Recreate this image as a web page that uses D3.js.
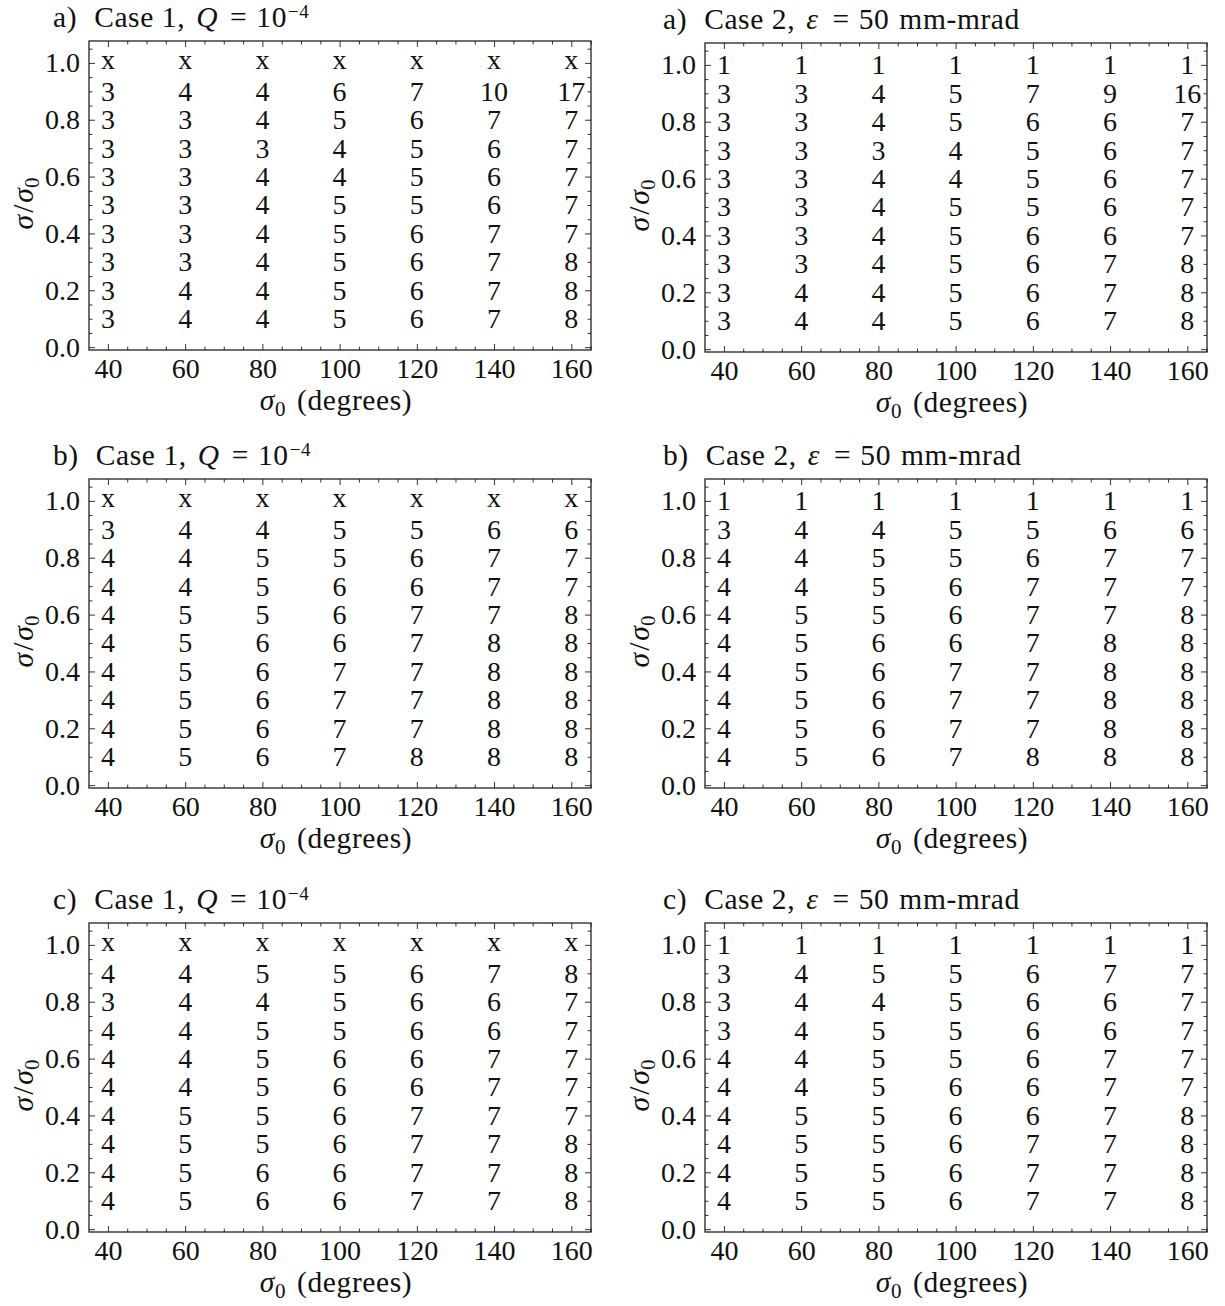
<!DOCTYPE html>
<html>
<head>
<meta charset="utf-8">
<script src="https://cdn.jsdelivr.net/npm/d3@7"></script>
<style>
  html, body { margin: 0; padding: 0; background: #fff; }
  svg { display: block; }
  text { font-family: "Liberation Serif", "Times New Roman", serif; fill: #111; }
</style>
</head>
<body>
<svg id="chart" width="1225" height="1306"></svg>
<script>
// ---------------- data ----------------
const sigma0 = [40, 60, 80, 100, 120, 140, 160];          // columns (degrees)
const ratio = [1.0, 0.9, 0.8, 0.7, 0.6, 0.5, 0.4, 0.3, 0.2, 0.1]; // rows (sigma/sigma0)
const xTicks = [40, 60, 80, 100, 120, 140, 160];
const yTicks = [0.0, 0.2, 0.4, 0.6, 0.8, 1.0];
const X = null; // "x" entries (no value)

const case1a = [
  [X, X, X, X, X, X, X],
  [3, 4, 4, 6, 7, 10, 17],
  [3, 3, 4, 5, 6, 7, 7],
  [3, 3, 3, 4, 5, 6, 7],
  [3, 3, 4, 4, 5, 6, 7],
  [3, 3, 4, 5, 5, 6, 7],
  [3, 3, 4, 5, 6, 7, 7],
  [3, 3, 4, 5, 6, 7, 8],
  [3, 4, 4, 5, 6, 7, 8],
  [3, 4, 4, 5, 6, 7, 8]
];
const case2a = [
  [1, 1, 1, 1, 1, 1, 1],
  [3, 3, 4, 5, 7, 9, 16],
  [3, 3, 4, 5, 6, 6, 7],
  [3, 3, 3, 4, 5, 6, 7],
  [3, 3, 4, 4, 5, 6, 7],
  [3, 3, 4, 5, 5, 6, 7],
  [3, 3, 4, 5, 6, 6, 7],
  [3, 3, 4, 5, 6, 7, 8],
  [3, 4, 4, 5, 6, 7, 8],
  [3, 4, 4, 5, 6, 7, 8]
];
const case1b = [
  [X, X, X, X, X, X, X],
  [3, 4, 4, 5, 5, 6, 6],
  [4, 4, 5, 5, 6, 7, 7],
  [4, 4, 5, 6, 6, 7, 7],
  [4, 5, 5, 6, 7, 7, 8],
  [4, 5, 6, 6, 7, 8, 8],
  [4, 5, 6, 7, 7, 8, 8],
  [4, 5, 6, 7, 7, 8, 8],
  [4, 5, 6, 7, 7, 8, 8],
  [4, 5, 6, 7, 8, 8, 8]
];
const case2b = [
  [1, 1, 1, 1, 1, 1, 1],
  [3, 4, 4, 5, 5, 6, 6],
  [4, 4, 5, 5, 6, 7, 7],
  [4, 4, 5, 6, 7, 7, 7],
  [4, 5, 5, 6, 7, 7, 8],
  [4, 5, 6, 6, 7, 8, 8],
  [4, 5, 6, 7, 7, 8, 8],
  [4, 5, 6, 7, 7, 8, 8],
  [4, 5, 6, 7, 7, 8, 8],
  [4, 5, 6, 7, 8, 8, 8]
];
const case1c = [
  [X, X, X, X, X, X, X],
  [4, 4, 5, 5, 6, 7, 8],
  [3, 4, 4, 5, 6, 6, 7],
  [4, 4, 5, 5, 6, 6, 7],
  [4, 4, 5, 6, 6, 7, 7],
  [4, 4, 5, 6, 6, 7, 7],
  [4, 5, 5, 6, 7, 7, 7],
  [4, 5, 5, 6, 7, 7, 8],
  [4, 5, 6, 6, 7, 7, 8],
  [4, 5, 6, 6, 7, 7, 8]
];
const case2c = [
  [1, 1, 1, 1, 1, 1, 1],
  [3, 4, 5, 5, 6, 7, 7],
  [3, 4, 4, 5, 6, 6, 7],
  [3, 4, 5, 5, 6, 6, 7],
  [4, 4, 5, 5, 6, 7, 7],
  [4, 4, 5, 6, 6, 7, 7],
  [4, 5, 5, 6, 6, 7, 8],
  [4, 5, 5, 6, 7, 7, 8],
  [4, 5, 5, 6, 7, 7, 8],
  [4, 5, 5, 6, 7, 7, 8]
];
const panelLetters = ["a)", "b)", "c)"];

// ---------------- layout ----------------
const svg = d3.select("#chart");
const colLeft = [89, 705];
const frameW = 502, frameH = 309;
const rowTop = [[41, 43], [479, 479], [923, 923]];
const FS = 28;     // tick labels & cell numbers
const TFS = 29.5;  // titles / axis labels

const panels = [
  { row: 0, col: 0, data: case1a, kind: 1 },
  { row: 0, col: 1, data: case2a, kind: 2 },
  { row: 1, col: 0, data: case1b, kind: 1 },
  { row: 1, col: 1, data: case2b, kind: 2 },
  { row: 2, col: 0, data: case1c, kind: 1 },
  { row: 2, col: 1, data: case2c, kind: 2 }
];

function minorRange(a, b, step) {
  const out = [];
  for (let i = Math.round(a / step); i * step <= b + 1e-9; i++) out.push(+(i * step).toFixed(4));
  return out;
}

panels.forEach(p => {
  const left = colLeft[p.col], top = rowTop[p.row][p.col];
  const g = svg.append("g").attr("transform", `translate(${left},${top})`);

  const x = d3.scaleLinear().domain([35.1, 165.1]).range([0, frameW]);
  const y = d3.scaleLinear().domain([-0.01, 1.077]).range([frameH, 0]);

  const xMinor = minorRange(35, 165, 5).filter(v => v > 35.1 && v < 165.1 && !xTicks.includes(v));
  const yMinor = minorRange(0, 1.05, 0.05).filter(v => !yTicks.some(t => Math.abs(t - v) < 1e-6));

  const styleAxis = sel => {
    sel.select(".domain").remove();
    sel.selectAll(".tick line").attr("stroke", "#333").attr("stroke-width", 1);
    sel.selectAll(".tick text").attr("font-size", FS).attr("fill", "#111");
  };

  // major axes
  g.append("g").attr("transform", `translate(0,${frameH})`)
    .call(d3.axisBottom(x).tickValues(xTicks).tickSizeInner(-6).tickSizeOuter(0).tickPadding(8).tickFormat(d3.format("d")))
    .call(styleAxis);
  g.append("g")
    .call(d3.axisTop(x).tickValues(xTicks).tickSizeInner(-6).tickSizeOuter(0).tickFormat(""))
    .call(styleAxis);
  g.append("g")
    .call(d3.axisLeft(y).tickValues(yTicks).tickSizeInner(-6).tickSizeOuter(0).tickPadding(9).tickFormat(d3.format(".1f")))
    .call(styleAxis);
  g.append("g").attr("transform", `translate(${frameW},0)`)
    .call(d3.axisRight(y).tickValues(yTicks).tickSizeInner(-6).tickSizeOuter(0).tickFormat(""))
    .call(styleAxis);
  // minor ticks
  g.append("g").attr("transform", `translate(0,${frameH})`)
    .call(d3.axisBottom(x).tickValues(xMinor).tickSizeInner(-3.5).tickSizeOuter(0).tickFormat(""))
    .call(styleAxis);
  g.append("g")
    .call(d3.axisTop(x).tickValues(xMinor).tickSizeInner(-3.5).tickSizeOuter(0).tickFormat(""))
    .call(styleAxis);
  g.append("g")
    .call(d3.axisLeft(y).tickValues(yMinor).tickSizeInner(-3.5).tickSizeOuter(0).tickFormat(""))
    .call(styleAxis);
  g.append("g").attr("transform", `translate(${frameW},0)`)
    .call(d3.axisRight(y).tickValues(yMinor).tickSizeInner(-3.5).tickSizeOuter(0).tickFormat(""))
    .call(styleAxis);

  // frame
  g.append("rect").attr("x", 0).attr("y", 0).attr("width", frameW).attr("height", frameH)
    .attr("fill", "none").attr("stroke", "#222").attr("stroke-width", 1.3);

  // cells
  const cells = [];
  p.data.forEach((row, i) => row.forEach((v, j) => cells.push({ x: sigma0[j], y: ratio[i], v })));
  g.append("g").selectAll("text").data(cells).join("text")
    .attr("x", d => x(d.x))
    .attr("y", d => y(d.y) + (d.v === null ? 0.23 * FS : 0.335 * FS))
    .attr("text-anchor", "middle")
    .attr("font-size", FS)
    .text(d => d.v === null ? "x" : d.v);

  // title
  const t = svg.append("text")
    .attr("x", left - 36 + (p.col === 1 ? -6 : 0))
    .attr("y", top - 14)
    .attr("font-size", TFS)
    .attr("letter-spacing", 0.6);
  t.append("tspan").text(panelLetters[p.row]);
  if (p.kind === 1) {
    t.append("tspan").attr("dx", 17).text("Case 1,");
    t.append("tspan").attr("dx", 11).attr("font-style", "italic").text("Q");
    t.append("tspan").attr("dx", 12).text("=");
    t.append("tspan").attr("dx", 9).text("10");
    t.append("tspan").attr("dy", -9).attr("dx", 1).attr("font-size", 19).text("\u22124");
  } else {
    t.append("tspan").attr("dx", 17).text("Case 2,");
    t.append("tspan").attr("dx", 11).attr("font-style", "italic").text("\u03B5");
    t.append("tspan").attr("dx", 14).text("=");
    t.append("tspan").attr("dx", 9).text("50");
    t.append("tspan").attr("dx", 10).text("mm-mrad");
  }

  // y label
  const yl = svg.append("text")
    .attr("transform", `translate(${left - 56},${top + frameH / 2 + 8}) rotate(-90)`)
    .attr("text-anchor", "middle")
    .attr("font-size", TFS);
  yl.append("tspan").attr("font-style", "italic").text("\u03C3");
  yl.append("tspan").attr("dx", 2).text("/");
  yl.append("tspan").attr("dx", 2).attr("font-style", "italic").text("\u03C3");
  yl.append("tspan").attr("dy", 6).attr("font-size", 21).text("0");

  // x label
  const xl = svg.append("text")
    .attr("x", left + frameW / 2 - 4)
    .attr("y", top + frameH + 60)
    .attr("font-size", TFS)
    .attr("letter-spacing", 0.6)
    .attr("text-anchor", "middle");
  xl.append("tspan").attr("font-style", "italic").text("\u03C3");
  xl.append("tspan").attr("dy", 6).attr("font-size", 21).text("0");
  xl.append("tspan").attr("dy", -6).attr("dx", 11).text("(degrees)");
});
</script>
</body>
</html>
